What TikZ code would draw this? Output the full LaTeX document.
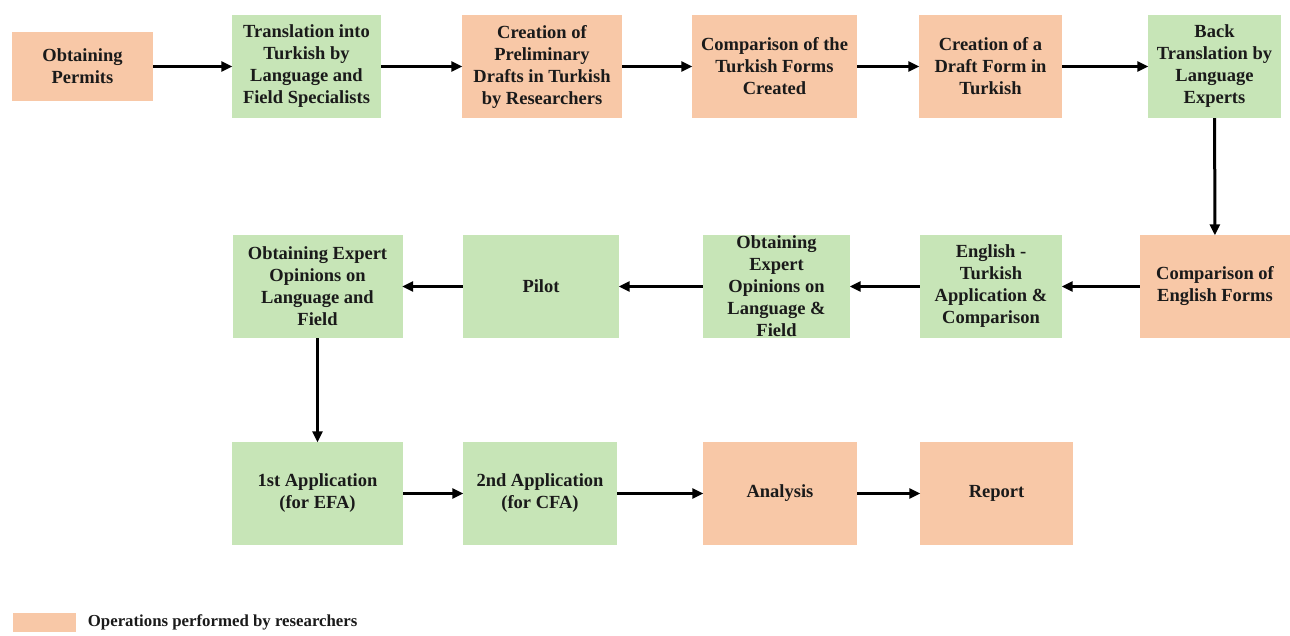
\documentclass[tikz,border=0pt]{standalone}
\usepackage{fontspec}
\setmainfont{Liberation Serif}
\usetikzlibrary{arrows.meta}
\definecolor{peach}{HTML}{F8C8A7}
\definecolor{mint}{HTML}{C7E5B7}
\definecolor{ink}{HTML}{1A1A1A}
\begin{document}
\begin{tikzpicture}[x=1pt,y=-1pt,
  box/.style={inner sep=0pt, align=center, text=ink,
    font=\fontsize{18.5}{22}\selectfont\bfseries, minimum height=103pt},
  res/.style={box, fill=peach},
  spec/.style={box, fill=mint},
  flow/.style={line width=3pt, black, -{Triangle[length=11pt,width=10pt]}, shorten >=-0.5pt}
]
\useasboundingbox (0,0) rectangle (1290,635);
% row 1
\node[res, minimum width=141pt, minimum height=69pt] (A) at (82.5,66.5) {Obtaining\\Permits};
\node[spec, minimum width=149pt] (B) at (306.5,66.5) {Translation into\\Turkish by\\Language and\\Field Specialists};
\node[res, minimum width=160pt] (C) at (542,66.5) {Creation of\\Preliminary\\Drafts in Turkish\\by Researchers};
\node[res, minimum width=165pt] (D) at (774.5,66.5) {Comparison of the\\Turkish Forms\\Created};
\node[res, minimum width=143pt] (E) at (990.5,66.5) {Creation of a\\Draft Form in\\Turkish};
\node[spec, minimum width=133pt] (F) at (1214.5,66.5) {Back\\Translation by\\Language\\Experts};
% row 2
\node[res, minimum width=150pt] (G) at (1215,286.5) {Comparison of\\English Forms};
\node[spec, minimum width=142pt] (H) at (991,286.5) {English -\\Turkish\\Application \&\\Comparison};
\node[spec, minimum width=147pt] (I) at (776.5,286.5) {Obtaining\\Expert\\Opinions on\\Language \&\\Field};
\node[spec, minimum width=156pt] (J) at (541,286.5) {Pilot};
\node[spec, minimum width=170pt] (K) at (317.5,286.5) {Obtaining Expert\\Opinions on\\Language and\\Field};
% row 3
\node[spec, minimum width=171pt] (L) at (317.5,493.5) {1st Application\\(for EFA)};
\node[spec, minimum width=154pt] (M) at (540,493.5) {2nd Application\\(for CFA)};
\node[res, minimum width=154pt] (N) at (780,493.5) {Analysis};
\node[res, minimum width=153pt] (O) at (996.5,493.5) {Report};
% legend
\node[fill=peach, minimum width=63pt, minimum height=19pt, inner sep=0pt] (Lg) at (44,622.5) {};
\node[anchor=west, inner sep=0pt, text=ink, font=\fontsize{16.8}{19}\selectfont\bfseries] (LgT) at ([xshift=12pt]Lg.east) {Operations performed by researchers};
% arrows
\draw[flow] (A) -- (B);
\draw[flow] (B) -- (C);
\draw[flow] (C) -- (D);
\draw[flow] (D) -- (E);
\draw[flow] (E) -- (F);
\draw[flow] (F) -- (G);
\draw[flow] (G) -- (H);
\draw[flow] (H) -- (I);
\draw[flow] (I) -- (J);
\draw[flow] (J) -- (K);
\draw[flow] (K) -- (L);
\draw[flow] (L) -- (M);
\draw[flow] (M) -- (N);
\draw[flow] (N) -- (O);
\end{tikzpicture}
\end{document}
